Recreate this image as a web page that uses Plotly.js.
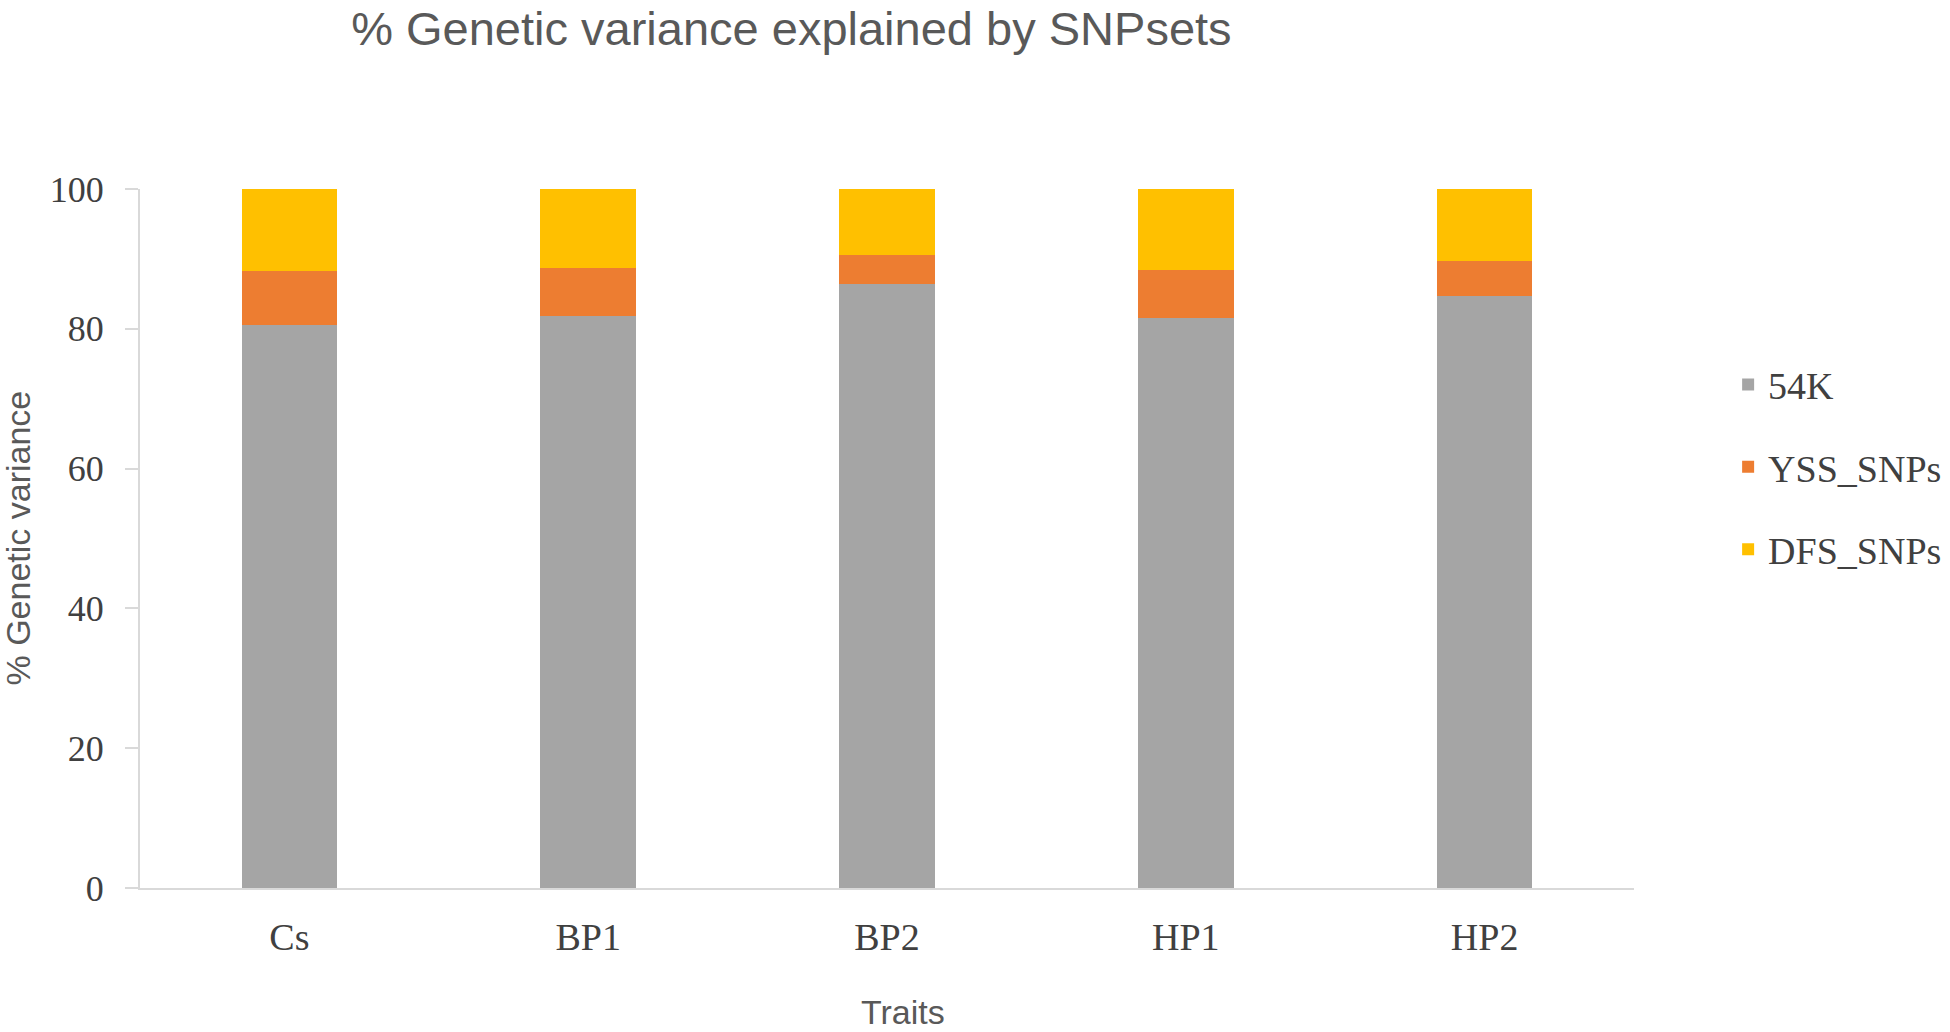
<!DOCTYPE html>
<html>
<head>
<meta charset="utf-8">
<script src="https://cdn.plot.ly/plotly-3.0.1.min.js"></script>
<style>
  html, body { margin: 0; padding: 0; background: #fff; }
  #chart { width: 1950px; height: 1032px; }
</style>
</head>
<body>
<div id="chart"></div>
<script>
// traits on the x axis
var traits = ['Cs', 'BP1', 'BP2', 'HP1', 'HP2'];

// % genetic variance explained by each SNP set
var snp54K = [80.5, 81.8, 86.4, 81.6, 84.7];
var yssSNPs = [7.7, 6.9, 4.1, 6.8, 5.0];
var dfsSNPs = [11.8, 11.3, 9.5, 11.6, 10.3];

var yTicks = [0, 20, 40, 60, 80, 100];

var serif = 'Liberation Serif, Times New Roman, serif';
var sans = 'Liberation Sans, Arial, sans-serif';

function barTrace(name, values, color, group) {
  return {
    type: 'bar',
    name: name,
    x: traits,
    y: values,
    legendgroup: group,
    marker: { color: color, line: { width: 0 } },
    hoverinfo: 'x+y+name'
  };
}

var data = [
  barTrace('54K', snp54K, '#A5A5A5', 'a'),
  barTrace('YSS_SNPs', yssSNPs, '#ED7D31', 'b'),
  barTrace('DFS_SNPs', dfsSNPs, '#FFC000', 'c')
];

var layout = {
  width: 1950,
  height: 1032,
  barmode: 'stack',
  bargap: 0.68,
  paper_bgcolor: '#ffffff',
  plot_bgcolor: '#ffffff',
  margin: { l: 140, r: 316, t: 189, b: 144, pad: 0, autoexpand: false },
  title: {
    text: '% Genetic variance explained by SNPsets',
    font: { family: sans, size: 47, color: '#595959' },
    xref: 'paper',
    x: 0.436,
    xanchor: 'center',
    yref: 'container',
    y: 0.972,
    yanchor: 'middle'
  },
  xaxis: {
    showline: true,
    linecolor: '#d9d9d9',
    linewidth: 2,
    showgrid: false,
    ticks: '',
    ticklabelstandoff: 14,
    tickfont: { family: serif, size: 38, color: '#404040' }
  },
  yaxis: {
    range: [0, 100],
    tickvals: yTicks,
    showline: true,
    linecolor: '#d9d9d9',
    linewidth: 2,
    showgrid: false,
    zeroline: false,
    ticks: 'outside',
    ticklen: 13,
    tickwidth: 2,
    tickcolor: '#d9d9d9',
    ticklabelstandoff: 14,
    tickfont: { family: serif, size: 36, color: '#404040' }
  },
  annotations: [
    {
      text: '% Genetic variance',
      textangle: -90,
      xref: 'paper', yref: 'paper',
      x: -0.0823, y: 0.5,
      xanchor: 'center', yanchor: 'middle',
      showarrow: false,
      font: { family: sans, size: 34, color: '#595959' }
    },
    {
      text: 'Traits',
      xref: 'paper', yref: 'paper',
      x: 0.511, y: -0.1774,
      xanchor: 'center', yanchor: 'middle',
      showarrow: false,
      font: { family: sans, size: 34, color: '#595959' }
    }
  ],
  legend: {
    x: 1.063,
    xanchor: 'left',
    y: 0.765,
    yanchor: 'top',
    traceorder: 'grouped',
    tracegroupgap: 30,
    font: { family: serif, size: 38, color: '#404040' },
    bgcolor: 'rgba(0,0,0,0)'
  },
  showlegend: true
};

Plotly.newPlot('chart', data, layout, { displayModeBar: false, responsive: false });
</script>
</body>
</html>
